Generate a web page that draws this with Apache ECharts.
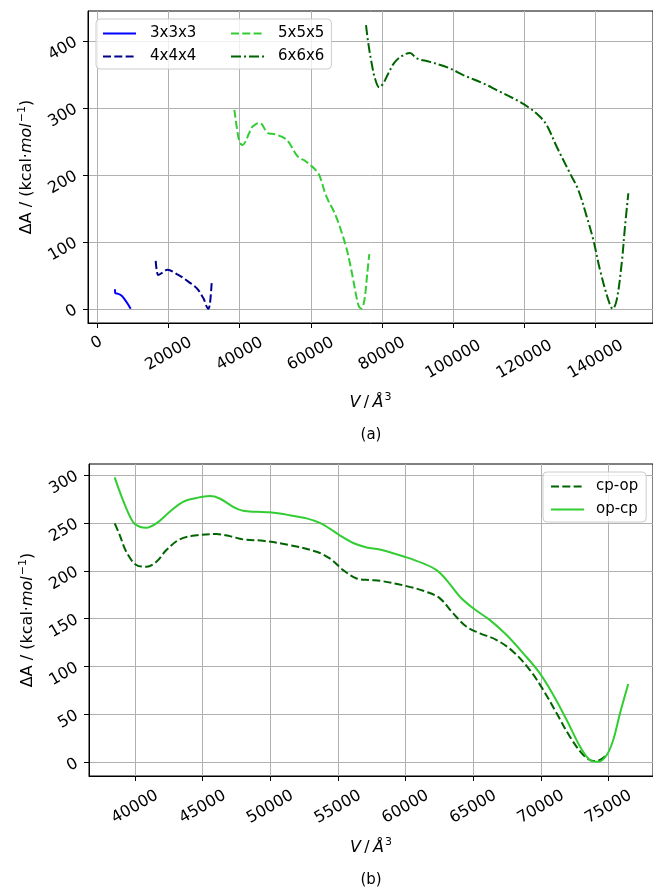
<!DOCTYPE html>
<html>
<head>
<meta charset="utf-8">
<script src="https://cdn.jsdelivr.net/npm/echarts@6/dist/echarts.min.js"></script>
<style>
    html, body { margin: 0; padding: 0; background: #fff; }
    #chart { width: 653px; height: 889px; }
</style>
</head>
<body>
<div id="chart"></div>
<script>
// tick labels
const xTicksA = [0, 20000, 40000, 60000, 80000, 100000, 120000, 140000];
const yTicksA = [0, 100, 200, 300, 400];
const xTicksB = [40000, 45000, 50000, 55000, 60000, 65000, 70000, 75000];
const yTicksB = [0, 50, 100, 150, 200, 250, 300];

// (a) 3x3x3
const v333 = [4920, 5010, 5860, 6810, 7740, 8670, 9330];
const a333 = [29.4, 23.4, 22.4, 19.4, 13.4, 6, 0];
// (a) 4x4x4
const v444 = [16370, 16650, 17100, 18060, 19640, 22730, 25540, 27900, 29760, 31170, 31650, 32120];
const a444 = [71.6, 58.2, 50.7, 53.3, 58.2, 50.7, 40.7, 30.9, 16, 0, 8.5, 39.3];
// (a) 6x6x6
const v666 = [75530, 76180, 77130, 78060, 79270, 80400, 81800, 83690, 86020, 87910, 89790, 93530,
    99160, 102900, 108530, 112300, 117920, 121670, 124480, 126360, 129180, 132910, 135250,
    137620, 139470, 141350, 143690, 144920, 146050, 147460, 148380, 149320];
const a666 = [423.9, 396.6, 366.7, 344.3, 330.9, 336.9, 351.8, 369.1, 379.1, 382.5, 374.2, 369.1,
    359.3, 349.3, 336.9, 326.9, 311.9, 299.5, 287, 274.6, 242.2, 202.5, 177.6,
    137.8, 103, 58.2, 13.4, 0, 13.4, 68.2, 122.8, 172.7];

// op-cp (also 5x5x5 in panel a)
const vOpcp = [38500, 39110, 39850, 40350, 40840, 41580, 42570, 43550, 44540, 45530, 46260, 47250,
    47990, 48980, 49960, 51440, 52680, 53660, 54400, 55140, 56130, 57120, 58100, 60070, 61300,
    62290, 63030, 64020, 65000, 66240, 67470, 68700, 69930, 70920, 71910, 72900, 73630, 74250,
    74870, 75350, 75850, 76460];
const aOpcp = [297.5, 273.8, 251, 246, 245, 249.5, 261.6, 272, 276, 278, 275.5, 266.8,
    262.6, 261.6, 261, 258, 254.7, 250, 244, 237, 229, 224.4, 222.3, 214, 207.7,
    200.7, 190.3, 172.9, 160.8, 148.5, 132.9, 113.8, 92.9, 70.3, 44.2, 16.3, 2.4, 0.6,
    7.6, 23.3, 51, 81.7];
// cp-op
const vCpop = [38500, 38870, 39360, 40100, 40840, 41580, 42320, 43310, 44540, 46020, 47000, 47990,
    49470, 51440, 53420, 54400, 55390, 56380, 57360, 58100, 60070, 61550, 62540, 63520, 64510,
    65500, 66730, 67960, 69190, 70180, 71170, 72150, 73140, 73880, 74370, 74870];
const aCpop = [249.5, 237.3, 219.8, 206, 204.2, 209.4, 221.6, 232.8, 237, 238.3, 236.2, 232.8,
    231.3, 226.8, 219.8, 212.9, 200.7, 192, 190.3, 189.6, 184, 178, 171.2, 155.5, 141.5,
    134.7, 127.7, 115.5, 96.3, 75.5, 51.1, 26.7, 7.6, 1.4, 2.4, 7.6];

const zip = (xs, ys) => xs.map((x, i) => [x, ys[i]]);

const FONT = 'DejaVu Sans';
const TICK_FS = 16;
const DASHED = [8, 3.3];
const DASHDOT = [10, 3, 2, 3];

const nameRich = {
    n: { fontFamily: FONT, fontSize: 16, color: '#000' },
    i: { fontFamily: FONT, fontSize: 16, fontStyle: 'italic', color: '#000' },
    sup: { fontFamily: FONT, fontSize: 11, color: '#000', padding: [0, 0, 10, 1] }
};
const vName = '{i|V} {n|/} {i|Å}{sup|3}';
const aName = '{n|ΔA / (kcal·}{i|mol}{sup|−1}{n|)}';

// rotated x labels are centred on the tick like matplotlib; nudge short/long ones
const tickRich = {
    d: { fontFamily: FONT, fontSize: TICK_FS, color: '#000' },
    z: { fontFamily: FONT, fontSize: TICK_FS, color: '#000', padding: [0, 0, 20, 10] },
    w: { fontFamily: FONT, fontSize: TICK_FS, color: '#000', padding: [10, 5, 0, 0] }
};
function xTickFmt(v) {
    const s = String(v);
    if (s.length === 1) return '{z|' + s + '}';
    if (s.length >= 6) return '{w|' + s + '}';
    return '{d|' + s + '}';
}

function xAxisOf(gridIndex, min, max, ticks, gap) {
    return {
        type: 'value', gridIndex, min, max,
        name: vName, nameLocation: 'middle', nameGap: gap,
        nameTextStyle: { rich: nameRich },
        axisLine: { show: true, onZero: false, lineStyle: { color: '#000', width: 1 } },
        axisTick: { show: true, customValues: ticks, length: 5, lineStyle: { color: '#000' } },
        axisLabel: {
            customValues: ticks, rotate: 30, margin: 31, align: 'center', verticalAlign: 'middle',
            color: '#000', fontFamily: FONT, fontSize: TICK_FS,
            formatter: xTickFmt, rich: tickRich
        },
        splitLine: { show: true, lineStyle: { color: '#b0b0b0', width: 1 } }
    };
}

function yAxisOf(gridIndex, min, max, ticks) {
    return {
        type: 'value', gridIndex, min, max,
        name: aName, nameLocation: 'middle', nameGap: 46,
        nameTextStyle: { rich: nameRich },
        axisLine: { show: true, onZero: false, lineStyle: { color: '#000', width: 1 } },
        axisTick: { show: true, customValues: ticks, length: 5, lineStyle: { color: '#000' } },
        axisLabel: {
            customValues: ticks, rotate: 30, margin: 12, color: '#000',
            fontFamily: FONT, fontSize: TICK_FS, formatter: v => String(v)
        },
        splitLine: { show: true, lineStyle: { color: '#b0b0b0', width: 1 } }
    };
}

function lineSeries(name, data, color, type, xi) {
    return {
        name, type: 'line', data, xAxisIndex: xi, yAxisIndex: xi,
        symbol: 'none', smooth: 0.35, animation: false,
        lineStyle: { color, width: 2, type },
        itemStyle: { color }
    };
}

const legendBase = {
    itemWidth: 33, itemHeight: 14, itemGap: 8,
    itemStyle: { opacity: 0 },
    textStyle: { fontFamily: FONT, fontSize: 15, color: '#000', padding: [0, 0, 0, 9] }
};
const legendFrame = {
    backgroundColor: 'rgba(255,255,255,0.8)',
    borderColor: '#cccccc', borderWidth: 1, borderRadius: 4
};

const chart = echarts.init(document.getElementById('chart'), null, { renderer: 'canvas' });
chart.setOption({
    animation: false,
    backgroundColor: '#fff',
    grid: [
        { left: 88, top: 11, right: 0, height: 312, show: true, borderColor: '#000', borderWidth: 1 },
        { left: 89, top: 464, right: 0, height: 312, show: true, borderColor: '#000', borderWidth: 1 }
    ],
    xAxis: [
        xAxisOf(0, -2670, 156260, xTicksA, 69),
        xAxisOf(1, 36600, 78290, xTicksB, 61)
    ],
    yAxis: [
        yAxisOf(0, -21.2, 445.1, yTicksA),
        yAxisOf(1, -14.3, 311.5, yTicksB)
    ],
    legend: [
        // first column carries the frame for both columns
        Object.assign({}, legendBase, legendFrame, {
            orient: 'vertical', left: 96, top: 19, z: 3,
            padding: [7, 135, 5, 6],
            data: ['3x3x3', '4x4x4']
        }),
        Object.assign({}, legendBase, {
            orient: 'vertical', left: 224, top: 19, z: 4,
            padding: [7, 6, 5, 6],
            data: ['5x5x5', '6x6x6']
        }),
        Object.assign({}, legendBase, legendFrame, {
            orient: 'vertical', left: 543, top: 472,
            padding: [7, 8, 5, 7],
            textStyle: { fontFamily: FONT, fontSize: 15, color: '#000', padding: [0, 0, 0, 7] },
            data: ['cp-op', 'op-cp']
        })
    ],
    series: [
        lineSeries('3x3x3', zip(v333, a333), '#0000ff', 'solid', 0),
        lineSeries('4x4x4', zip(v444, a444), '#00008b', DASHED, 0),
        lineSeries('5x5x5', zip(vOpcp, aOpcp), '#32cd32', DASHED, 0),
        lineSeries('6x6x6', zip(v666, a666), '#006400', DASHDOT, 0),
        lineSeries('cp-op', zip(vCpop, aCpop), '#006400', DASHED, 1),
        lineSeries('op-cp', zip(vOpcp, aOpcp), '#32cd32', 'solid', 1)
    ],
    graphic: [
        { type: 'text', x: 371, y: 435, style: { text: '(a)', font: '15px "DejaVu Sans"', fill: '#000', textAlign: 'center', textVerticalAlign: 'middle' } },
        { type: 'text', x: 371, y: 880, style: { text: '(b)', font: '15px "DejaVu Sans"', fill: '#000', textAlign: 'center', textVerticalAlign: 'middle' } }
    ]
});
</script>
</body>
</html>
